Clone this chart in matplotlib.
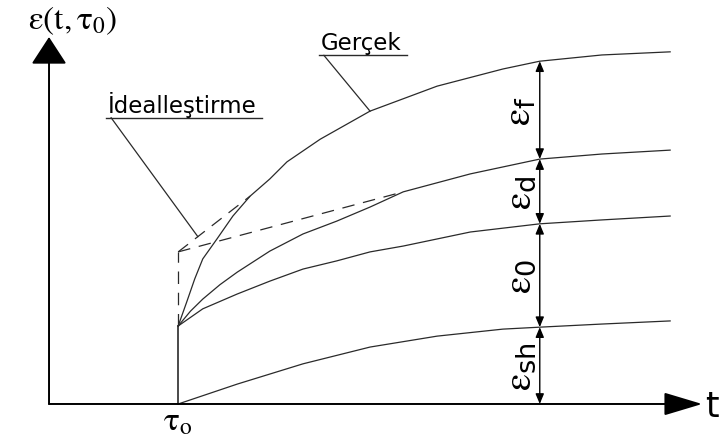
import numpy as np
import matplotlib
matplotlib.use("Agg")
import matplotlib.pyplot as plt

plt.rcParams['mathtext.fontset'] = 'stix'

# time of loading and instant (elastic) strain
t0 = 2.10
eps_el = 2.00

# shrinkage strain
t_sh = [2.10, 3.06, 4.13, 5.22, 6.31, 7.38, 7.98, 8.99, 10.10]
e_sh = [0.00, 0.51, 1.03, 1.46, 1.74, 1.92, 1.97, 2.05, 2.13]

# shrinkage + elastic (eps_0) curve
t_0 = [2.10, 2.50, 3.06, 3.59, 4.13, 4.68, 5.22, 5.76, 6.85, 7.98, 8.99, 10.10]
e_0 = [2.00, 2.44, 2.82, 3.15, 3.46, 3.67, 3.90, 4.05, 4.41, 4.62, 4.72, 4.82]

# + delayed elastic (eps_d) curve
t_d = [2.10, 2.30, 2.50, 2.78, 3.06, 3.59, 4.13, 4.68, 5.22, 5.76, 6.85, 7.98, 8.99, 10.10]
e_d = [2.00, 2.38, 2.69, 3.06, 3.38, 3.92, 4.36, 4.69, 5.05, 5.44, 5.90, 6.28, 6.41, 6.51]

# total strain, "Gercek" (real) curve
t_g = [2.10, 2.24, 2.37, 2.50, 2.73, 2.99, 3.27, 3.59, 3.87, 4.41, 5.22, 6.31,
       7.38, 7.98, 8.99, 10.10]
e_g = [2.00, 2.62, 3.21, 3.72, 4.23, 4.82, 5.33, 5.77, 6.21, 6.79, 7.51, 8.15,
       8.59, 8.79, 8.95, 9.03]

# idealised start: jump to this level, then straight lines to the curves
e_ideal = 3.90
t_ideal_g = 3.27
t_ideal_d = 5.76

labels = [r'$\mathrm{\varepsilon}_{\mathregular{f}}$',
          r'$\mathrm{\varepsilon}_{\mathregular{d}}$',
          r'$\mathrm{\varepsilon}_{\mathregular{0}}$',
          r'$\mathrm{\varepsilon}_{\mathregular{sh}}$']

t_dim = 7.98
t_max = 10.62
e_max = 9.41

fig = plt.figure(figsize=(7.21, 4.39), dpi=100)
ax = fig.add_axes([0, 0, 1, 1])
ax.set_xlim(-0.797, 10.927)
ax.set_ylim(-0.872, 10.385)
ax.axis('off')

lc = '#2a2a2a'
lw = 0.9

# axes with arrows
ax.annotate('', xy=(0, e_max), xytext=(0, 0),
            arrowprops=dict(arrowstyle='-|>,head_length=0.86,head_width=0.56',
                            mutation_scale=20, lw=1.4, color='black',
                            shrinkA=0, shrinkB=0))
ax.annotate('', xy=(t_max, 0), xytext=(0, 0),
            arrowprops=dict(arrowstyle='-|>,head_length=1.2,head_width=0.36',
                            mutation_scale=20, lw=1.4, color='black',
                            shrinkA=0, shrinkB=0))

# elastic jump at t0
ax.plot([t0, t0], [0, eps_el], color=lc, lw=1.2)

# strain curves
for tt, ee in [(t_sh, e_sh), (t_0, e_0), (t_d, e_d), (t_g, e_g)]:
    ax.plot(tt, ee, color=lc, lw=lw, solid_joinstyle='round')

# idealisation (dashed)
dash = dict(color=lc, lw=lw, linestyle=(0, (10, 7)))
ax.plot([t0, t0], [eps_el, e_ideal], **dash)
ax.plot([t0, t_ideal_g], [e_ideal, np.interp(t_ideal_g, t_g, e_g)], **dash)
ax.plot([t0, t_ideal_d], [e_ideal, np.interp(t_ideal_d, t_d, e_d)], **dash)

# dimension arrows between the curves
levels = [np.interp(t_dim, tt, ee) for tt, ee in
          [(t_g, e_g), (t_d, e_d), (t_0, e_0), (t_sh, e_sh)]] + [0.0]
for i in range(4):
    top, bot = levels[i], levels[i + 1]
    ax.annotate('', xy=(t_dim, top), xytext=(t_dim, bot),
                arrowprops=dict(arrowstyle='<|-|>,head_length=0.6,head_width=0.25',
                                mutation_scale=10, lw=1.0, color='black',
                                shrinkA=0, shrinkB=0))
    ax.text(t_dim - 0.33, (top + bot) / 2, labels[i], rotation=90,
            ha='center', va='center', fontsize=28)

# axis labels
ax.text(0.38, 9.87, r'$\mathrm{\varepsilon}(\mathrm{t},\mathrm{\tau}_{0})$',
        ha='center', va='center', fontsize=24)
ax.text(t_max + 0.05, -0.31, 't', ha='left', va='baseline', fontsize=25)
ax.text(t0, -0.40, r'$\mathrm{\tau}_{\mathrm{o}}$', ha='center', va='center',
        fontsize=24)

# leader labels
fig.canvas.draw()
inv = ax.transData.inverted()


def leader(text, x, y, target):
    txt = ax.text(x, y, text, ha='left', va='baseline', fontsize=16.5)
    bb = txt.get_window_extent(fig.canvas.get_renderer())
    (x0, _), (x1, _) = inv.transform([(bb.x0, bb.y0), (bb.x1, bb.y0)])
    uy = y - 0.16
    ax.plot([x0 - 0.03, x1 + 0.08], [uy, uy], color=lc, lw=1.0)
    ax.plot([x0 + 0.05, target[0]], [uy, target[1]], color=lc, lw=0.9)


leader('Gerçek', 4.42, 9.10, (5.22, np.interp(5.22, t_g, e_g)))
t_tip = 2.42
e_tip = e_ideal + (t_tip - t0) * (np.interp(t_ideal_g, t_g, e_g) - e_ideal) / (t_ideal_g - t0)
leader('İdealleştirme', 0.96, 7.50, (t_tip, e_tip))

fig.savefig('out.png', dpi=100)
